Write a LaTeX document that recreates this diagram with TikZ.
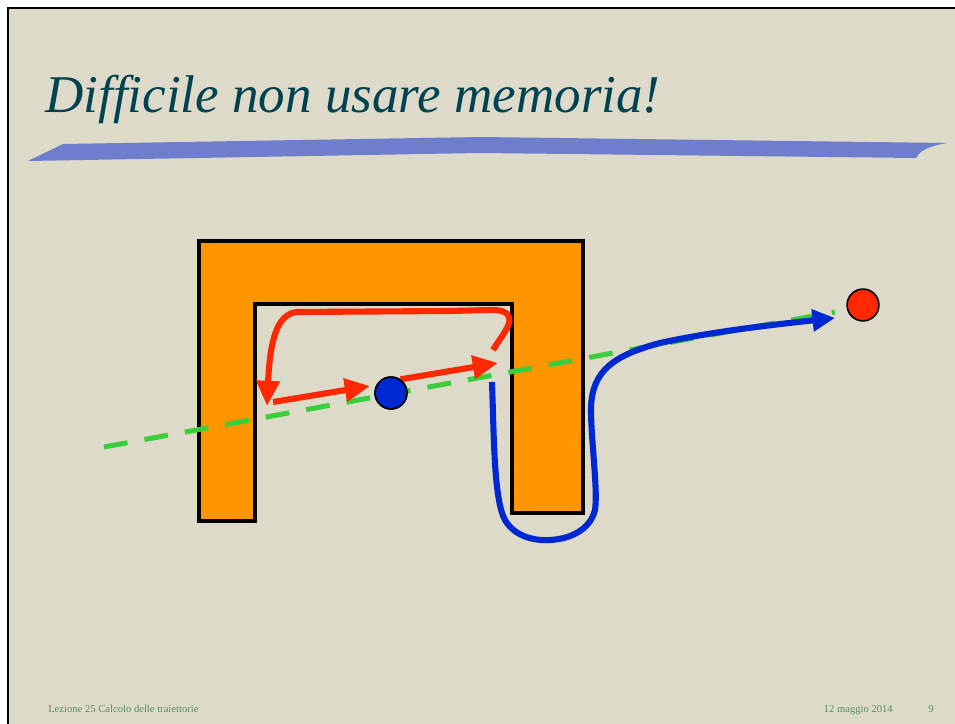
\documentclass[tikz,border=0pt]{standalone}
\usepackage{fontspec}
\setmainfont{Liberation Serif}
\usetikzlibrary{arrows.meta}

\definecolor{slidebg}{RGB}{221,218,202}
\definecolor{titlecol}{RGB}{0,66,80}
\definecolor{brushcol}{RGB}{110,126,204}
\definecolor{wallcol}{RGB}{255,150,0}
\definecolor{pathred}{RGB}{255,40,0}
\definecolor{pathblue}{RGB}{0,40,210}
\definecolor{linegreen}{RGB}{60,205,60}
\definecolor{footcol}{RGB}{90,140,100}

\begin{document}
\begin{tikzpicture}[x=0.754pt,y=-0.754pt,
  wall/.style={fill=wallcol,draw=black,line width=2.3pt,line join=miter},
  robot/.style={circle,draw=black,line width=1.2pt,minimum size=24pt,inner sep=0pt},
  redpath/.style={draw=pathred,line width=4.6pt},
  bluepath/.style={draw=pathblue,line width=4.6pt},
  redtip/.style={-{Triangle[length=19pt,width=17pt]}},
  bluetip/.style={-{Triangle[length=17pt,width=16pt]}},
  foot/.style={font=\fontsize{8}{10}\selectfont,text=footcol,inner sep=0pt,anchor=base west}]
\useasboundingbox (0,0) rectangle (955,724);
% slide
\fill[white] (0,0) rectangle (955,724);
\fill[slidebg] (8,8) rectangle (955,724);
\draw[line width=2pt] (8,724) -- (8,8) -- (955,8);
\node[anchor=base west,inner sep=0pt,text=titlecol,
  font=\fontsize{40}{48}\selectfont\itshape] (title) at (45,113) {Difficile non usare memoria!};
\fill[brushcol] (28,161) -- (63,144) -- (480,137) -- (947,143)
  .. controls (930,146) and (920,150) .. (916,158) -- (480,153) -- cycle;
% ostacolo
\draw[wall] (199,241) -- (583,241) -- (583,513) -- (512,513) -- (512,304)
  -- (255,304) -- (255,521) -- (199,521) -- cycle;
% retta start-goal
\coordinate (lineA) at (104,447);
\coordinate (lineB) at (835,312);
\draw[linegreen,line width=3.8pt,dash pattern=on 18pt off 13pt] (lineA) -- (lineB);
\node[robot,fill=pathblue] (start) at (391,393) {};
\node[robot,fill=pathred] (goal) at (863,305) {};
% percorso rosso
\coordinate (hitR) at (498,363);
\coordinate (leaveR) at (493,350);
\coordinate (wallL) at (267,406);
\coordinate (backL) at (273,402);
\coordinate (backtip) at (370,386);
\draw[redpath,redtip] (start.55) -- (hitR);
\draw[redpath,redtip] (leaveR) .. controls (500,338) and (512,325) .. (509,317)
  .. controls (507,311) and (500,310) .. (490,310) -- (450,311) -- (297,312)
  .. controls (277,314) and (270,340) .. (wallL);
\draw[redpath,redtip] (backL) -- (backtip);
% percorso blu
\coordinate (hitB) at (492,382);
\draw[bluepath,bluetip] (hitB) .. controls (494,440) and (494,500) .. (505,520)
  .. controls (515,537) and (535,541) .. (550,540)
  .. controls (570,539) and (590,530) .. (595,510)
  .. controls (598,490) and (591,440) .. (591,410)
  .. controls (591,370) and (615,355) .. (660,343)
  .. controls (710,332) and (770,325) .. (835,318);
\node[robot,fill=pathblue] at (start) {};
% pie di pagina
\node[foot] (lect) at (48,712) {Lezione 25 Calcolo delle traiettorie};
\node[foot,anchor=base east] (date) at (893,712) {12 maggio 2014};
\node[foot] (page) at (928,712) {9};
\end{tikzpicture}
\end{document}
